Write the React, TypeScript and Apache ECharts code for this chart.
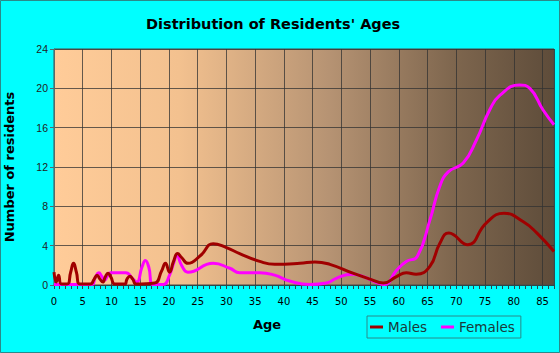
import React, { useEffect, useRef } from "react";
import * as echarts from "echarts";

const maleAges = [0, 0.4, 0.8, 1.3, 2.3, 2.9, 3.4, 3.9, 4.5, 6.3, 7.0, 7.5, 8.0, 8.5, 8.9, 9.4, 9.9, 10.6, 12.3, 12.7, 13.2, 13.7, 14.3, 17.5, 18.7, 19.4, 20.1, 20.8, 21.5, 22.2, 23.3, 25.5, 27.7, 30, 32.3, 35.8, 38.4, 42.8, 45.4, 48, 52, 55, 57.3, 59.6, 61.3, 63, 65.4, 67.1, 68.7, 72, 75.2, 78.3, 81.6, 84, 87];
const maleCounts = [1.3, 0.3, 1.0, 0.1, 0.1, 1.3, 2.2, 1.3, 0.1, 0.1, 0.6, 1.0, 0.6, 0.3, 0.8, 1.2, 0.8, 0.1, 0.1, 0.6, 0.9, 0.6, 0.1, 0.2, 1.4, 2.2, 1.3, 2.4, 3.2, 2.8, 2.2, 3.0, 4.2, 3.8, 3.2, 2.4, 2.1, 2.2, 2.35, 2.1, 1.2, 0.6, 0.2, 0.85, 1.25, 1.1, 1.9, 4.2, 5.3, 4.1, 6.3, 7.3, 6.45, 5.3, 3.4];

const femaleAges = [0, 6.5, 7.2, 7.8, 8.3, 8.8, 9.3, 9.8, 12.5, 13.6, 14.4, 15.3, 15.9, 16.5, 17.2, 19, 20.1, 20.8, 21.4, 22.2, 23.3, 27.7, 30.6, 32.3, 35.8, 38.4, 41, 44.5, 47.4, 49.2, 51.8, 53.8, 56.4, 57.5, 59.6, 61.3, 63.2, 65.4, 67.1, 68.6, 71.2, 73.5, 75.8, 77.6, 81, 82.8, 85.1, 87];
const femaleCounts = [0.05, 0.05, 0.8, 1.25, 0.9, 0.5, 0.9, 1.25, 1.25, 0.7, 0.3, 1.8, 2.5, 1.8, 0.05, 0.05, 1.0, 2.2, 3.0, 2.0, 1.3, 2.2, 1.7, 1.25, 1.25, 1.0, 0.4, 0.05, 0.2, 0.7, 1.1, 0.85, 0.2, 0.05, 1.5, 2.4, 2.9, 6.6, 10, 11.5, 12.4, 14.75, 17.8, 19.3, 20.35, 20, 17.8, 16.3];

const seriesNames = ["Males", "Females"];
const titleText = "Distribution of Residents' Ages";
const xName = "Age";
const yName = "Number of residents";

export default function App() {
  const ref = useRef<HTMLDivElement>(null);
  useEffect(() => {
    if (!ref.current) return;
    const chart = echarts.init(ref.current, null, { renderer: "svg" });
    const males = maleAges.map((a, i) => [a, maleCounts[i]]);
    const females = femaleAges.map((a, i) => [a, femaleCounts[i]]);
    const gridLine = { lineStyle: { color: "rgba(50,50,50,0.75)", width: 1 } };
    chart.setOption({
      animation: false,
      backgroundColor: "#00FFFF",
      textStyle: { fontFamily: "DejaVu Sans" },
      title: {
        text: titleText,
        left: 146,
        top: 16,
        padding: 0,
        textStyle: { fontFamily: "DejaVu Sans", fontWeight: "bold", fontSize: 14.5, color: "#000" },
      },
      grid: {
        left: 54,
        right: 6,
        top: 49,
        bottom: 68,
        outerBoundsMode: "none",
        containLabel: false,
        show: true,
        borderColor: "#4a4a4a",
        borderWidth: 1,
        backgroundColor: new echarts.graphic.LinearGradient(0, 0, 1, 0, [
          { offset: 0, color: "#FFCC99" },
          { offset: 0.25, color: "#F3C18F" },
          { offset: 0.55, color: "#B69373" },
          { offset: 0.8, color: "#7E664E" },
          { offset: 1, color: "#5E4C3A" },
        ]),
      },
      legend: {
        left: 367,
        top: 316,
        padding: [4, 6, 4, 3],
        borderColor: "#2a8a8a",
        borderWidth: 1,
        itemGap: 14,
        itemWidth: 13,
        itemHeight: 3,
        icon: "rect",
        data: seriesNames,
        textStyle: { fontFamily: "DejaVu Sans", fontSize: 13.5, color: "#1a3a3a" },
      },
      xAxis: [
        {
          type: "value",
          min: 0,
          max: 87,
          interval: 5,
          axisLine: { show: true, lineStyle: { color: "#2a4a4a" } },
          axisTick: { show: false },
          axisLabel: {
            showMaxLabel: false,
            margin: 11,
            fontFamily: "DejaVu Sans",
            fontSize: 10,
            color: "#000",
          },
          splitLine: { show: true, ...gridLine },
        },
        {
          type: "value",
          min: 0,
          max: 87,
          interval: 1,
          position: "bottom",
          axisLine: { show: false },
          axisTick: { show: true, inside: false, length: 4, lineStyle: { color: "#2a4a4a" } },
          axisLabel: { show: false },
          splitLine: { show: false },
        },
      ],
      yAxis: {
        type: "value",
        min: 0,
        max: 24,
        interval: 4,
        name: yName,
        nameLocation: "middle",
        nameGap: 38,
        nameTextStyle: { fontFamily: "DejaVu Sans", fontWeight: "bold", fontSize: 13, color: "#000" },
        axisLine: { show: true, lineStyle: { color: "#556b6b" } },
        axisTick: { show: true, length: 4, lineStyle: { color: "#556b6b" } },
        axisLabel: { margin: 6, fontFamily: "Liberation Sans", fontSize: 10.5, color: "#222" },
        splitLine: { show: true, ...gridLine },
      },
      series: [
        {
          name: seriesNames[0],
          type: "line",
          data: males,
          smooth: 0.5,
          showSymbol: false,
          symbol: "none",
          lineStyle: { color: "#A00000", width: 3 },
          itemStyle: { color: "#A00000" },
          z: 3,
        },
        {
          name: seriesNames[1],
          type: "line",
          data: females,
          smooth: 0.5,
          showSymbol: false,
          symbol: "none",
          lineStyle: { color: "#FF00FF", width: 3 },
          itemStyle: { color: "#FF00FF" },
          z: 2,
        },
      ],
      graphic: [
        {
          type: "text",
          x: 267,
          y: 324,
          style: {
            text: xName,
            fontFamily: "DejaVu Sans",
            fontWeight: "bold",
            fontSize: 13,
            fill: "#000",
            textAlign: "center",
            textVerticalAlign: "middle",
          },
          silent: true,
        },
        {
          type: "rect",
          shape: { x: 0.5, y: 0.5, width: 559, height: 352 },
          style: { fill: "none", stroke: "#2a8a8a", lineWidth: 1 },
          silent: true,
        },
      ],
    });
    return () => chart.dispose();
  }, []);
  return <div ref={ref} style={{ position: "fixed", left: 0, top: 0, width: 560, height: 353 }} />;
}
